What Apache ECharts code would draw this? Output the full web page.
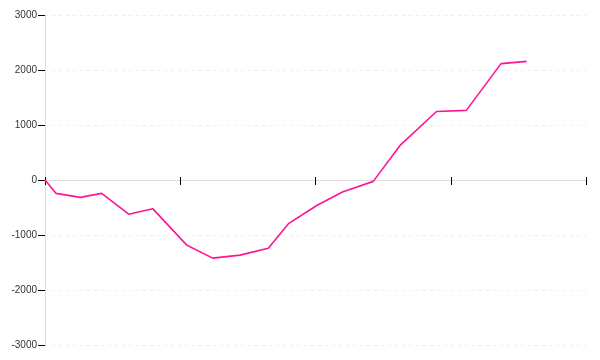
<!DOCTYPE html>
<html>
<head>
<meta charset="utf-8">
<script src="https://cdn.jsdelivr.net/npm/echarts@6/dist/echarts.min.js"></script>
<style>html,body{margin:0;padding:0;background:#fff}#c{width:600px;height:360px}</style>
</head>
<body>
<div id="c"></div>
<script>
const xValues = [0, 8.1, 26.2, 41.9, 61.9, 79.6, 105, 124, 144.2, 165.1, 180, 200.9, 219.9, 242.7, 262.5, 289.5, 311.5, 337.2, 356.1];
const yValues = [0, -243, -316, -243, -621, -521, -1188, -1420, -1366, -1241, -794, -463, -218, -25, 629, 1245, 1266, 2116, 2157];
const yTicks = [-3000, -2000, -1000, 0, 1000, 2000, 3000];

const chart = echarts.init(document.getElementById('c'), null, {renderer: 'canvas'});
const pts = xValues.map((x, i) => [x, yValues[i]]);
const xCommon = {
  type: 'value', min: 0, max: 400, interval: 100,
  axisLabel: {show: false},
  splitLine: {show: false}
};
chart.setOption({
  animation: false,
  grid: {left: 45, right: 14, top: 15, bottom: 15},
  xAxis: [
    Object.assign({}, xCommon, {
      axisLine: {show: true, onZero: true, lineStyle: {color: '#dddddd', width: 1}},
      axisTick: {show: true, length: 5, lineStyle: {color: '#000', width: 1}}
    }),
    Object.assign({}, xCommon, {
      position: 'bottom',
      axisLine: {show: true, onZero: true, onZeroAxisIndex: 0, lineStyle: {color: 'rgba(0,0,0,0)', width: 1}},
      axisTick: {show: true, inside: true, length: 3, lineStyle: {color: '#000', width: 1}}
    })
  ],
  yAxis: {
    type: 'value', min: yTicks[0], max: yTicks[yTicks.length - 1], interval: 1000,
    axisLine: {show: true, lineStyle: {color: '#dddddd', width: 1}},
    axisTick: {show: true, length: 7, lineStyle: {color: '#000', width: 1}},
    axisLabel: {color: '#333', fontSize: 10, fontFamily: 'Liberation Sans, Arial, sans-serif', margin: 8,
      formatter: v => String(v)},
    splitLine: {show: true, lineStyle: {color: '#eeeeee', type: [3, 4], width: 1}}
  },
  series: [{
    type: 'line',
    data: pts,
    showSymbol: false,
    symbol: 'none',
    lineStyle: {color: '#ff1493', width: 1.6},
    xAxisIndex: 0
  }]
});
</script>
</body>
</html>
